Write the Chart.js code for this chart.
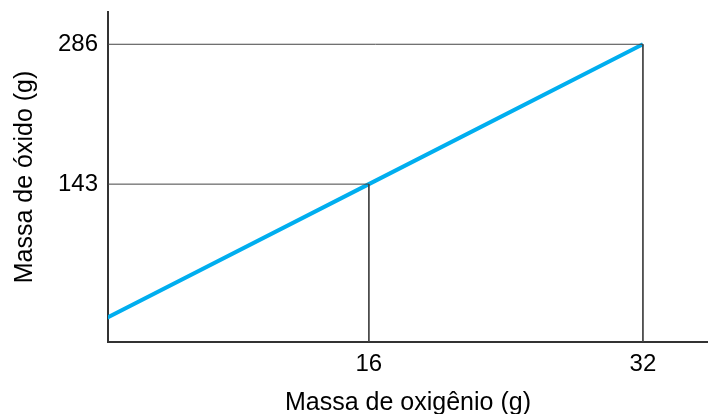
<!DOCTYPE html>
<html>
<head>
<meta charset="utf-8">
<script src="https://cdn.jsdelivr.net/npm/chart.js@4"></script>
<style>
  html, body { margin: 0; padding: 0; background: #fff; }
  canvas { display: block; }
</style>
</head>
<body>
<canvas id="chart" width="708" height="414"></canvas>
<script>
// oxygen mass (x) vs oxide mass (y)
let OXYGEN = [0, 16, 32]
let OXIDE = [0, 143, 286]
let X_TICKS = [16, 32]
let Y_TICKS = [143, 286]
let X_TITLE = "Massa de oxigênio (g)"
let Y_TITLE = "Massa de óxido (g)"

let X_MIN = 0.77
let X_MAX = 35.8
let Y_MIN = -18.4
let Y_MAX = 319

const FONT = 'Arial, "Liberation Sans", sans-serif'

// guide lines: from y axis to the point, then down to the x axis
function guideFor(i) {
    return {
        data: [{x: X_MIN, y: OXIDE[i]}, {x: OXYGEN[i], y: OXIDE[i]}, {x: OXYGEN[i], y: Y_MIN}],
        borderColor: '#444',
        borderWidth: 1,
        pointRadius: 0,
        tension: 0,
        clip: 0
    }
}

window.onload = () => {
    const ctx = document.getElementById('chart').getContext('2d')
    new Chart(ctx, {
        type: 'line',
        data: {
            datasets: [
                guideFor(1),
                guideFor(2),
                {
                    data: OXYGEN.map((x, i) => ({x: x, y: OXIDE[i]})),
                    borderColor: '#00aeef',
                    borderWidth: 4,
                    pointRadius: 0,
                    tension: 0,
                    clip: 0
                }
            ]
        },
        options: {
            responsive: false,
            animation: false,
            devicePixelRatio: 1,
            layout: { padding: { top: 12, right: 0, left: 0, bottom: 0 } },
            plugins: { legend: { display: false }, tooltip: { enabled: false } },
            scales: {
                x: {
                    type: 'linear',
                    min: X_MIN,
                    max: X_MAX,
                    afterBuildTicks: (scale) => { scale.ticks = X_TICKS.map(v => ({value: v})) },
                    afterFit: (scale) => {
                        scale.height = 72
                        scale.paddingLeft = 0
                        scale.paddingRight = 0
                    },
                    grid: { display: false, drawTicks: false },
                    border: { display: true, color: '#333', width: 2 },
                    ticks: { color: '#000', padding: 8, font: { family: FONT, size: 24 } },
                    title: {
                        display: true,
                        text: X_TITLE,
                        color: '#000',
                        font: { family: FONT, size: 25 },
                        padding: { top: 0, bottom: -4 }
                    }
                },
                y: {
                    type: 'linear',
                    min: Y_MIN,
                    max: Y_MAX,
                    afterBuildTicks: (scale) => { scale.ticks = Y_TICKS.map(v => ({value: v})) },
                    afterFit: (scale) => {
                        scale.width = 108
                        scale.paddingTop = 0
                        scale.paddingBottom = 0
                    },
                    grid: { display: false, drawTicks: false },
                    border: { display: true, color: '#333', width: 2 },
                    ticks: { color: '#000', padding: 10, font: { family: FONT, size: 24 } },
                    title: {
                        display: true,
                        text: Y_TITLE,
                        color: '#000',
                        font: { family: FONT, size: 25 },
                        padding: { top: 10, bottom: 0 }
                    }
                }
            }
        }
    })
}
</script>
</body>
</html>
